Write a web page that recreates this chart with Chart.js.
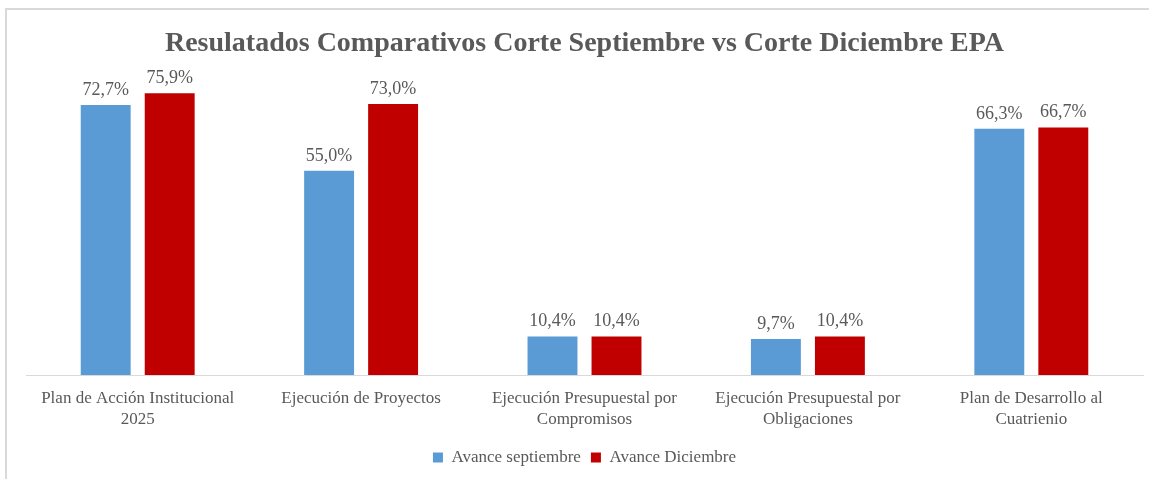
<!DOCTYPE html>
<html>
<head>
<meta charset="utf-8">
<script src="https://cdn.jsdelivr.net/npm/chart.js@4.4.1/dist/chart.umd.min.js"></script>
<style>
  html, body { margin: 0; padding: 0; background: #fff; overflow: hidden; }
  #wrap { position: absolute; left: 0; top: 0; width: 1149px; height: 479px; }
  #frame { position: absolute; left: 5px; top: 8px; width: 1200px; height: 600px;
           border-left: 2px solid #d9d9d9; border-top: 2px solid #d9d9d9; pointer-events: none; }
</style>
</head>
<body>
<div id="wrap"><canvas id="canvas" width="1149" height="479"></canvas></div>
<div id="frame"></div>
<script>
var categories = [
    ["Plan de Acción Institucional", "2025"],
    ["Ejecución de Proyectos"],
    ["Ejecución Presupuestal por", "Compromisos"],
    ["Ejecución Presupuestal por", "Obligaciones"],
    ["Plan de Desarrollo al", "Cuatrienio"]
];
var avanceSeptiembre = [72.7, 55.0, 10.4, 9.7, 66.3];
var avanceDiciembre = [75.9, 73.0, 10.4, 10.4, 66.7];

var serif = "'Liberation Serif', 'DejaVu Serif', serif";
var gris = "#595959";

// etiquetas de valor encima de cada barra
var valueLabels = {
    id: 'valueLabels',
    afterDatasetsDraw: function(chart){
        var ctx = chart.ctx;
        ctx.save();
        ctx.font = "18px " + serif;
        ctx.fillStyle = gris;
        ctx.textAlign = 'center';
        ctx.textBaseline = 'bottom';
        chart.data.datasets.forEach(function(ds, i){
            var meta = chart.getDatasetMeta(i);
            meta.data.forEach(function(bar, j){
                var txt = ds.data[j].toFixed(1).replace('.', ',') + '%';
                ctx.fillText(txt, bar.x, bar.y - 6);
            });
        });
        ctx.restore();
    }
};

var ctx = document.getElementById("canvas").getContext("2d");
window.myBar = new Chart(ctx, {
    type: 'bar',
    data: {
        labels: categories,
        datasets: [
            {
                label: "Avance septiembre",
                backgroundColor: "#5b9bd5",
                data: avanceSeptiembre
            },
            {
                label: "Avance Diciembre",
                backgroundColor: "#c00000",
                data: avanceDiciembre
            }
        ]
    },
    options: {
        responsive: false,
        animation: false,
        categoryPercentage: 0.573,
        barPercentage: 0.78,
        layout: { padding: { left: 26, right: 6, top: 0, bottom: 3 } },
        plugins: {
            title: {
                display: true,
                text: "Resulatados Comparativos Corte Septiembre vs Corte Diciembre EPA",
                color: gris,
                font: { family: serif, size: 28, weight: 'bold' },
                padding: { top: 27, bottom: 17.4 }
            },
            legend: {
                position: 'bottom',
                labels: {
                    color: gris,
                    font: { family: serif, size: 17 },
                    boxWidth: 10,
                    boxHeight: 10,
                    padding: 10
                }
            },
            tooltip: { enabled: false }
        },
        scales: {
            x: {
                grid: { display: false },
                border: { display: true, color: "#d9d9d9", width: 1 },
                ticks: {
                    color: gris,
                    font: { family: serif, size: 17, lineHeight: 1.25 },
                    padding: 5,
                    maxRotation: 0,
                    autoSkip: false
                },
                afterFit: function(scale){ scale.height = 64; }
            },
            y: {
                display: false,
                min: 0,
                max: 80
            }
        }
    },
    plugins: [valueLabels]
});
</script>
</body>
</html>
